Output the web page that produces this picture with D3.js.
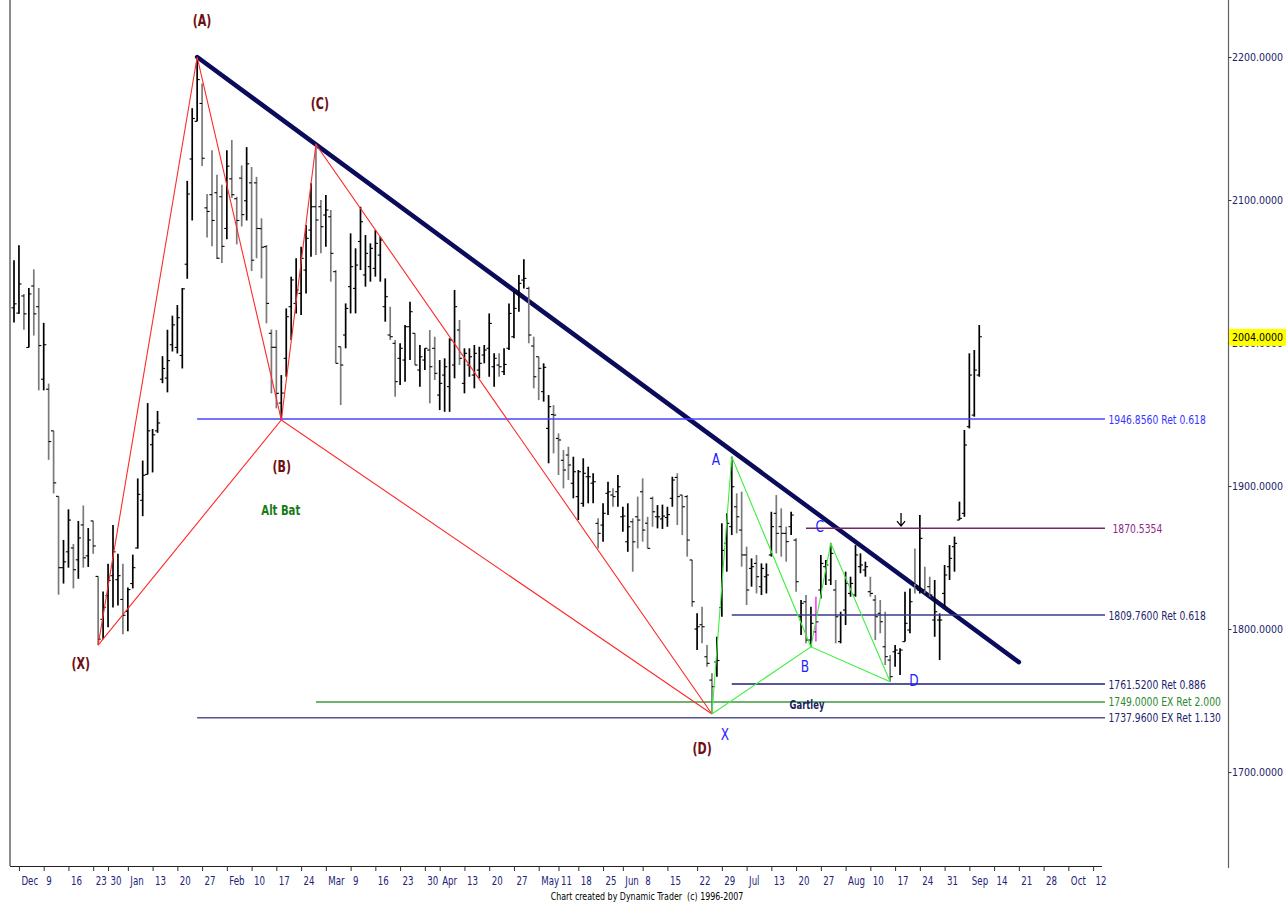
<!DOCTYPE html>
<html><head><meta charset="utf-8">
<script src="https://cdn.jsdelivr.net/npm/d3@7/dist/d3.min.js"></script>
<style>
html,body{margin:0;padding:0;background:#fff;overflow:hidden}
svg text{font-family:"DejaVu Sans Condensed","Liberation Sans Narrow","Arial Narrow",sans-serif}
</style></head><body>
<svg id="chart" width="1286" height="905"></svg>
<script>
// ---- price bars (one per trading day, index 0 = first bar) ----
const opens=[2024.6,2020.9,2032.9,1996.9,2039.9,2025.4,1974.7,1967.7,1938.6,1892.8,1842.9,1854.0,1856.7,1848.4,1872.8,1851.2,1875.6,1836.8,1806.8,1823.4,1837.3,1834.5,1820.7,1812.3,1831.8,1856.7,1890.0,1908.1,1928.9,1938.6,1974.7,1975.5,1998.8,1996.9,1991.3,2055.1,2128.7,2155.0,2167.5,2094.5,2103.7,2105.1,2102.3,2080.1,2114.8,2100.9,2115.3,2099.5,2112.0,2112.0,2080.0,2067.4,2006.8,1997.0,1958.0,1989.3,2025.4,2027.7,2034.7,2051.0,2079.0,2095.3,2095.3,2089.5,2088.3,2049.9,1997.4,2005.6,2039.4,2038.2,2071.0,2047.6,2053.4,2052.2,2061.5,2025.4,2005.6,1999.8,1989.3,1988.1,2011.4,2006.8,1981.1,1988.1,1995.1,1996.3,1963.6,1977.6,1969.5,1984.6,2009.1,1971.8,1984.6,1977.6,1981.1,1991.6,1996.3,1983.4,1984.6,1980.0,1996.3,2004.4,2034.7,2044.0,2038.2,1997.9,1990.4,1966.0,1940.3,1950.0,1933.3,1918.0,1921.7,1901.9,1892.6,1887.9,1906.5,1902.0,1873.9,1872.7,1894.9,1893.7,1896.0,1878.5,1861.0,1875.0,1878.5,1896.0,1874.0,1891.4,1878.5,1877.0,1878.0,1891.4,1906.0,1893.7,1892.6,1848.3,1800.0,1803.0,1780.6,1764.3,1777.0,1815.0,1860.0,1871.6,1885.5,1869.2,1851.8,1842.4,1845.9,1829.6,1836.6,1851.8,1880.9,1871.6,1866.9,1871.6,1862.2,1808.6,1819.1,1792.3,1798.0,1827.3,1843.6,1834.3,1827.3,1791.2,1813.3,1824.9,1823.8,1843.6,1841.3,1826.1,1820.3,1811.0,1787.6,1778.3,1784.1,1783.0,1791.2,1799.3,1831.9,1827.3,1827.3,1829.6,1806.3,1806.3,1824.9,1843.6,1857.6,1876.2,1880.9,1941.5,1949.6,1977.6];
const highs=[2057.9,2068.4,2034.3,2038.5,2051.5,2038.5,2014.1,1971.6,1938.6,1892.8,1862.3,1883.7,1859.5,1875.6,1886.4,1870.6,1875.6,1836.8,1826.2,1845.6,1872.8,1852.6,1845.6,1829.0,1852.0,1905.3,1917.8,1958.0,1939.9,1952.5,1990.8,2009.3,2019.1,2026.6,2038.5,2113.4,2164.2,2200.0,2181.4,2104.2,2134.8,2117.6,2110.6,2134.8,2142.0,2102.3,2124.2,2137.0,2123.1,2116.2,2087.2,2068.5,2009.5,2009.1,1977.6,2024.2,2046.4,2059.2,2067.4,2082.5,2111.7,2138.9,2100.0,2103.5,2093.0,2051.0,1997.4,2027.7,2076.7,2066.2,2095.3,2075.5,2069.7,2079.0,2074.4,2045.2,2025.4,2002.1,1999.8,2012.6,2028.9,2006.8,1998.6,1996.3,2009.1,2004.4,1988.1,1989.3,2003.3,2037.1,2016.1,1996.3,1996.3,1998.6,1997.4,1998.6,2020.7,1992.8,1992.8,1996.3,2027.7,2035.9,2047.6,2058.5,2039.4,2004.4,1990.4,1985.8,1963.6,1956.6,1936.8,1925.2,1927.5,1920.5,1911.2,1919.4,1913.5,1908.9,1877.4,1887.9,1903.0,1898.4,1907.7,1885.5,1887.9,1877.4,1892.6,1905.4,1878.5,1892.6,1886.7,1887.0,1885.5,1906.5,1908.9,1893.7,1893.7,1848.3,1811.0,1815.6,1788.8,1769.0,1794.6,1873.9,1880.9,1920.5,1894.9,1896.0,1857.6,1849.4,1851.8,1845.9,1845.9,1882.0,1893.7,1884.4,1871.6,1882.0,1863.4,1820.3,1823.8,1815.6,1822.6,1851.8,1848.3,1859.9,1834.3,1812.1,1840.1,1836.6,1858.7,1852.9,1847.1,1836.6,1823.8,1820.3,1812.1,1781.8,1788.8,1786.5,1826.1,1828.4,1856.4,1879.7,1843.6,1836.6,1834.3,1810.9,1844.8,1858.7,1864.6,1889.1,1939.2,1992.8,1995.1,2012.6];
const lows=[2014.3,2020.4,2009.3,1996.9,2005.2,1966.9,1966.9,1918.3,1894.8,1824.0,1831.8,1842.9,1828.4,1835.1,1842.9,1843.4,1852.6,1788.8,1792.9,1801.2,1815.1,1816.5,1796.3,1798.5,1828.4,1856.2,1878.9,1908.1,1909.5,1937.2,1971.9,1965.5,1994.1,1992.7,1982.2,2044.9,2085.7,2155.0,2123.7,2073.7,2067.6,2058.7,2056.0,2072.6,2101.5,2069.0,2081.5,2085.7,2050.4,2059.3,2045.2,2013.8,1964.8,1954.3,1946.2,1976.4,2002.1,2020.7,2019.6,2034.7,2060.4,2061.5,2062.7,2067.4,2042.9,1985.8,1956.6,1996.3,2020.7,2020.7,2051.0,2039.4,2042.9,2046.4,2042.9,2014.9,2002.1,1962.5,1970.6,1973.0,1988.1,1984.6,1969.5,1981.1,1957.8,1974.1,1953.1,1951.9,1951.9,1975.3,1984.6,1964.8,1976.4,1968.3,1975.3,1985.8,1976.4,1969.5,1976.4,1977.6,1995.1,2003.3,2021.9,2038.2,1999.8,1968.3,1960.1,1959.0,1915.9,1922.8,1907.7,1898.4,1904.2,1891.4,1876.2,1885.5,1887.9,1887.9,1856.4,1861.1,1879.7,1885.5,1885.5,1868.0,1854.0,1840.1,1856.4,1861.1,1856.4,1871.5,1870.4,1870.0,1871.5,1885.5,1872.7,1865.7,1850.6,1815.6,1785.3,1790.0,1773.7,1740.6,1766.7,1808.6,1840.1,1865.7,1866.9,1843.6,1816.8,1829.6,1824.9,1823.8,1824.9,1850.6,1852.9,1850.6,1847.1,1865.7,1826.1,1795.8,1790.0,1787.6,1791.2,1821.4,1830.8,1830.8,1790.0,1790.0,1802.8,1822.6,1822.6,1839.0,1836.6,1822.6,1792.3,1797.0,1774.8,1763.2,1773.6,1767.8,1791.2,1797.0,1824.9,1824.9,1824.9,1822.6,1794.6,1778.3,1815.6,1834.3,1840.1,1876.2,1878.5,1940.3,1948.5,1976.4];
const closes=[2027.4,2041.3,2020.4,2034.3,2020.4,1998.2,1998.8,1931.1,1902.2,1842.9,1847.0,1876.2,1841.5,1863.7,1849.8,1862.3,1858.1,1792.9,1815.1,1834.0,1854.0,1837.3,1809.6,1827.6,1842.9,1894.2,1907.5,1938.6,1935.8,1944.1,1982.2,1987.7,2012.7,2017.7,2037.9,2104.2,2157.0,2184.2,2129.2,2092.0,2085.7,2059.3,2067.6,2123.7,2103.7,2085.7,2089.8,2125.3,2057.9,2080.1,2067.0,2027.7,1997.0,1964.8,1965.0,2018.4,2044.1,2037.1,2059.2,2073.2,2095.3,2086.0,2081.3,2093.0,2062.7,1985.8,1984.6,2024.2,2053.4,2054.5,2084.8,2062.7,2066.2,2069.7,2072.0,2032.4,2004.4,1973.0,1996.3,2011.4,2021.9,1984.6,1990.4,1996.3,1983.4,1978.8,1971.8,1983.4,2002.1,2025.4,1989.3,1992.8,1990.4,1992.8,1985.8,1995.1,2013.7,1989.3,1983.4,1985.0,2020.7,2024.2,2041.7,2045.2,2005.6,1976.4,1982.3,1983.0,1955.5,1949.6,1932.2,1911.2,1914.7,1910.0,1910.0,1908.9,1906.5,1903.0,1866.9,1880.9,1896.0,1892.6,1899.5,1879.0,1871.5,1861.0,1876.2,1869.2,1856.4,1882.0,1878.5,1879.0,1880.0,1904.2,1892.6,1885.5,1862.2,1819.1,1801.6,1801.6,1776.0,1759.7,1778.0,1855.0,1873.9,1899.5,1878.5,1851.8,1827.3,1843.6,1836.6,1842.4,1837.8,1871.6,1866.9,1866.9,1861.1,1879.7,1833.1,1818.0,1792.3,1804.0,1805.0,1845.9,1844.8,1852.9,1808.6,1809.8,1831.9,1831.9,1851.8,1844.8,1843.6,1824.9,1808.6,1805.1,1780.7,1766.7,1785.3,1785.3,1804.0,1819.1,1829.6,1863.4,1824.9,1823.8,1812.1,1806.3,1837.8,1849.4,1859.9,1877.4,1928.7,1977.6,1981.1,2004.4];
const highlightBars=[162];

// ---- axes ----
const tickIdx=[1,6,11,16,19,23,28,33,38,43,48,53,58,63,68,73,78,83,86,91,96,101,106,110,114,119,123,127,132,138,143,148,153,158,163,168,173,178,183,188,193,198,203,208,213,218];
const tickLabels=["Dec","9","16","23","30","Jan","13","20","27","Feb","10","17","24","Mar","9","16","23","30","Apr","13","20","27","May","11","18","25","Jun","8","15","22","29","Jul","13","20","27","Aug","10","17","24","31","Sep","14","21","28","Oct","12"];
const priceTicks=[2200,2100,2000,1900,1800,1700];
const lastPrice=2004;

// ---- pattern pivots ----
const altBatIdx=[17,37,54,61,141];
const altBatPrice=[1788.8,2200.0,1946.2,2138.9,1740.6];
const gartleyIdx=[141,145,161,165,177];
const gartleyPrice=[1740.6,1920.5,1787.6,1859.9,1763.2];
const trendIdx=[37,203];
const trendPrice=[2200.0,1776.9];

// ---- horizontal levels ----
const levelPrices=[1946.856,1870.5354,1809.76,1761.52,1749.0,1737.96];
const levelStartIdx=[37,160,145,145,61,37];
const levelLabels=["1946.8560 Ret 0.618","1870.5354","1809.7600 Ret 0.618","1761.5200 Ret 0.886","1749.0000 EX Ret 2.000","1737.9600 EX Ret 1.130"];
const levelLineColors=["#4646ff","#7a2468","#3a3a88","#1e1e78","#3c9a3c","#54548f"];
const levelTextColors=["#3535ff","#8a2a86","#26266e","#1e1e6e","#2a8a2a","#26266e"];

// ---- text annotations (data coords) ----
const pivotTexts=["(A)","(C)","(B)","(X)","(D)"];
const pivotTextIdx=[38,61.8,54.1,13.5,139];
const pivotTextPrice=[2221.7,2163.6,1909.8,1772.0,1712.6];
const gartTexts=["A","B","C","D","X"];
const gartTextIdx=[141.8,159.8,162.8,181.8,143.6];
const gartTextPrice=[1914.7,1769.9,1867.8,1760.1,1722.4];
const arrowIdx=179.2, arrowPrice=1872.0;

const svg=d3.select("#chart");
svg.append("rect").attr("width",1286).attr("height",905).attr("fill","#fff");

const x=d3.scaleLinear().domain([0,220]).range([14,14+4.95*220]);
const y=d3.scaleLinear().domain([1634.3,2239.86]).range([866,0]);
const levelEndIdx=220.4;

// condense text horizontally (narrow Windows-style font look)
function cond(sel,k){
  sel.each(function(){
    const w=this.getComputedTextLength();
    d3.select(this).attr("textLength",w*k).attr("lengthAdjust","spacingAndGlyphs");
  });
  return sel;
}

// frame
svg.append("line").attr("x1",10).attr("x2",10).attr("y1",0).attr("y2",866).attr("stroke","#404040").attr("stroke-width",1.2);
svg.append("line").attr("x1",1228.5).attr("x2",1228.5).attr("y1",0).attr("y2",868).attr("stroke","#606060").attr("stroke-width",1.2);

// bottom axis
const xAxis=d3.axisBottom(x).tickValues(tickIdx).tickSize(5).tickFormat((d,i)=>tickLabels[i]);
const gx=svg.append("g").attr("transform","translate(0,866)").call(xAxis);
gx.select(".domain").attr("d","M10,0.5H1102").attr("stroke","#202020");
gx.selectAll(".tick line").attr("stroke","#303030");
gx.selectAll(".tick text").attr("text-anchor","start").attr("x",2).attr("y",10).attr("dy","0.71em")
  .attr("fill","#22227a").style("font-size","12px").attr("font-family",null);
cond(gx.selectAll(".tick text"),0.8);

// right axis
const yAxis=d3.axisRight(y).tickValues(priceTicks).tickSize(3).tickFormat(d=>d.toFixed(4));
const gy=svg.append("g").attr("transform","translate(1228.5,0)").call(yAxis);
gy.select(".domain").remove();
gy.selectAll(".tick line").attr("stroke","#303030");
gy.selectAll(".tick text").attr("x",3.5).attr("fill","#22226e").style("font-size","10.5px").attr("font-family",null);
// last price highlight
gy.append("rect").attr("x",0.5).attr("y",y(lastPrice)-8.5).attr("width",58).attr("height",17).attr("fill","#ffff00");
gy.append("text").attr("x",3.5).attr("y",y(lastPrice)).attr("dy","0.36em").attr("fill","#000").style("font-size","10.5px").text(lastPrice.toFixed(4));

// trendline
svg.append("line").attr("x1",x(trendIdx[0])).attr("y1",y(trendPrice[0])).attr("x2",x(trendIdx[1])).attr("y2",y(trendPrice[1]))
  .attr("stroke","#0b0b5c").attr("stroke-width",4.5).attr("stroke-linecap","round");

// bars
const bars=d3.range(highs.length).map(i=>({i,o:opens[i],h:highs[i],l:lows[i],c:closes[i]}));
const gb=svg.append("g");
gb.selectAll("line.hl").data(bars).join("line").attr("class","hl")
  .attr("x1",d=>x(d.i)).attr("x2",d=>x(d.i)).attr("y1",d=>y(d.h)).attr("y2",d=>y(d.l))
  .attr("stroke",d=>highlightBars.includes(d.i)?"#ff44ff":(d.c>=d.o?"#000":"#7a7a7a")).attr("stroke-width",1.7);
gb.selectAll("line.op").data(bars).join("line").attr("class","op")
  .attr("x1",d=>x(d.i)-2.6).attr("x2",d=>x(d.i)).attr("y1",d=>y(d.o)).attr("y2",d=>y(d.o))
  .attr("stroke","#000").attr("stroke-width",1.1);
gb.selectAll("line.cl").data(bars).join("line").attr("class","cl")
  .attr("x1",d=>x(d.i)).attr("x2",d=>x(d.i)+2.6).attr("y1",d=>y(d.c)).attr("y2",d=>y(d.c))
  .attr("stroke","#000").attr("stroke-width",1.1);

// horizontal levels
const levels=levelPrices.map((p,k)=>({p,s:levelStartIdx[k],t:levelLabels[k],lc:levelLineColors[k],tc:levelTextColors[k]}));
const gl=svg.append("g");
gl.selectAll("line").data(levels).join("line")
  .attr("x1",d=>x(d.s)).attr("x2",x(levelEndIdx)).attr("y1",d=>y(d.p)).attr("y2",d=>y(d.p))
  .attr("stroke",d=>d.lc).attr("stroke-width",1.5);
cond(gl.selectAll("text").data(levels).join("text")
  .attr("x",d=>x(levelEndIdx)+(d.t.includes("Ret")?3.5:7.5)).attr("y",d=>y(d.p)).attr("dy","0.36em")
  .attr("fill",d=>d.tc).style("font-size","12.5px").text(d=>d.t),0.82);

// pattern lines
function pattern(idx,pr,color){
  const pts=idx.map((v,k)=>[x(v),y(pr[k])]);
  const line=d3.line();
  svg.append("path").attr("d",line(pts)).attr("fill","none").attr("stroke",color).attr("stroke-width",1.1);
  svg.append("path").attr("d",line([pts[0],pts[2],pts[4]])).attr("fill","none").attr("stroke",color).attr("stroke-width",1.1);
}
pattern(altBatIdx,altBatPrice,"#ff2a2a");
pattern(gartleyIdx,gartleyPrice,"#3ef03e");

// labels
const ga=svg.append("g").attr("text-anchor","middle");
pivotTexts.forEach((t,k)=>cond(ga.append("text").attr("x",x(pivotTextIdx[k])).attr("y",y(pivotTextPrice[k]))
  .attr("fill","#6e0f12").style("font-size","15px").style("font-weight","bold").text(t),0.82));
gartTexts.forEach((t,k)=>cond(ga.append("text").attr("x",x(gartTextIdx[k])).attr("y",y(gartTextPrice[k]))
  .attr("fill","#1e1eff").style("font-size","15px").text(t),0.9));
cond(ga.append("text").attr("x",x(53.9)).attr("y",y(1879.7)).attr("fill","#197a19").style("font-size","14px").style("font-weight","bold").text("Alt Bat"),0.8);
cond(ga.append("text").attr("x",x(160.2)).attr("y",y(1744.1)).attr("fill","#1c1c5e").style("font-size","12px").style("font-weight","bold").text("Gartley"),0.78);

// down arrow
const ax=x(arrowIdx), ay=y(arrowPrice);
svg.append("path").attr("d",`M${ax},${ay-13}V${ay} M${ax-4},${ay-5}L${ax},${ay}L${ax+4},${ay-5}`)
  .attr("fill","none").attr("stroke","#000").attr("stroke-width",1.3);

// footer
cond(svg.append("text").attr("x",647).attr("y",900).attr("text-anchor","middle").attr("fill","#000").style("font-size","11px")
  .style("white-space","pre").text("Chart created by Dynamic Trader  (c) 1996-2007"),0.8);
</script>
</body></html>
